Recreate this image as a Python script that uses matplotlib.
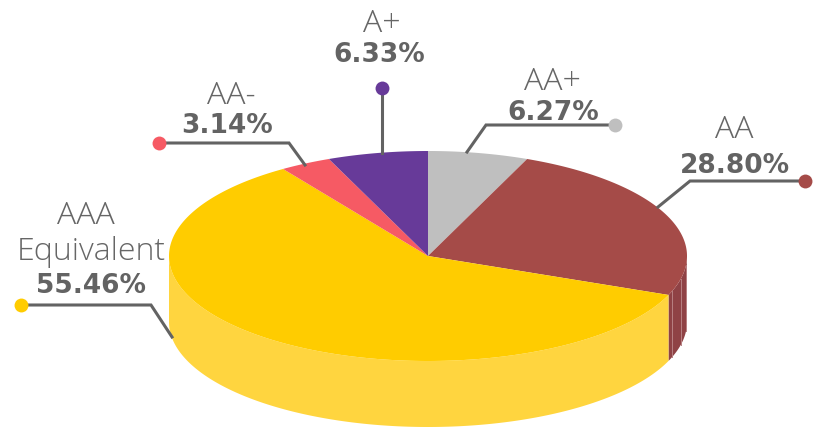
import numpy as np
import matplotlib
matplotlib.use('Agg')
import matplotlib.pyplot as plt

# labels as printed on the chart
names = ['AA+', 'AA', 'AAA', 'AA-', 'A+']
printed = ['6.27%', '28.80%', '55.46%', '3.14%', '6.33%']
# slice sizes as they are drawn in the picture (clockwise from the top)
drawn_shares = [6.25, 24.8, 59.5, 3.2, 6.25]
top_colors = ['#BFBFBF', '#A54B48', '#FFCC00', '#F65A64', '#673A99']
side_colors = ['#BFBFBF', '#8F4245', '#FFD53F', '#F65A64', '#673A99']

# leader lines: dot first, then elbow, then the end on the pie
leaders = [
    [(615, 125), (486, 125), (467, 152)],
    [(805, 181), (690, 181), (658, 207)],
    [(21, 305), (151, 305), (172, 337)],
    [(159, 143), (289, 143), (305, 165)],
    [(382, 88), (382, 153)],
]
# x, y of the name and of the percentage
name_pos = [(552, 82), (734, 130), (86, 216), (231, 96), (382, 24)]
pct_pos = [(553, 113), (735, 166), (91, 286), (227, 126), (379, 55)]

cx, cy, rx, ry, depth = 428, 256, 259, 105, 66
line_col = '#636363'

fig = plt.figure(figsize=(8.2, 4.28), dpi=100)
ax = fig.add_axes([0, 0, 1, 1])
ax.set_xlim(0, 820)
ax.set_ylim(428, 0)
ax.axis('off')


def arc(a0, a1, drop=0):
    # angles in degrees clockwise from the top of the ellipse
    t = np.radians(np.linspace(a0, a1, 200))
    return cx + rx * np.sin(t), cy - ry * np.cos(t) + drop


edges = np.concatenate([[0], np.cumsum(drawn_shares)]) * 3.6

# side wall, only the part facing us (90 to 270 degrees)
for i in range(len(names)):
    a0, a1 = max(edges[i], 90), min(edges[i + 1], 270)
    if a1 <= a0:
        continue
    x, y = arc(a0, a1)
    xb, yb = arc(a1, a0, depth)
    ax.fill(np.r_[x, xb], np.r_[y, yb], color=side_colors[i], lw=0, zorder=1)

# pale seams on the dark wall
for a in [edges[2] - 2.5, edges[2] - 9, edges[2] - 17]:
    x, y = arc(a, a)
    ax.plot([x[0], x[0]], [y[0], y[0] + depth], color='#B88082', lw=0.7, zorder=1.5)

# top of the pie
for i in range(len(names)):
    x, y = arc(edges[i], edges[i + 1])
    ax.fill(np.r_[cx, x], np.r_[cy, y], color=top_colors[i], lw=0, zorder=2)

for i, pts in enumerate(leaders):
    xs, ys = zip(*pts)
    ax.plot(xs, ys, color=line_col, lw=2.2, solid_joinstyle='miter', zorder=3)
    ax.plot(xs[0], ys[0], 'o', ms=10, mew=0, color=top_colors[i], zorder=4)

for i in range(len(names)):
    ax.text(*name_pos[i], names[i], family='Open Sans', weight='light', fontsize=23,
            color='#666666', ha='center', va='center', zorder=5)
    ax.text(*pct_pos[i], printed[i], family='DejaVu Sans', weight='bold', fontsize=19,
            color=line_col, ha='center', va='center', zorder=5)
ax.text(91, 252, 'Equivalent', family='Open Sans', weight='light', fontsize=23,
        color='#666666', ha='center', va='center', zorder=5)

fig.savefig('out.png', dpi=100)
